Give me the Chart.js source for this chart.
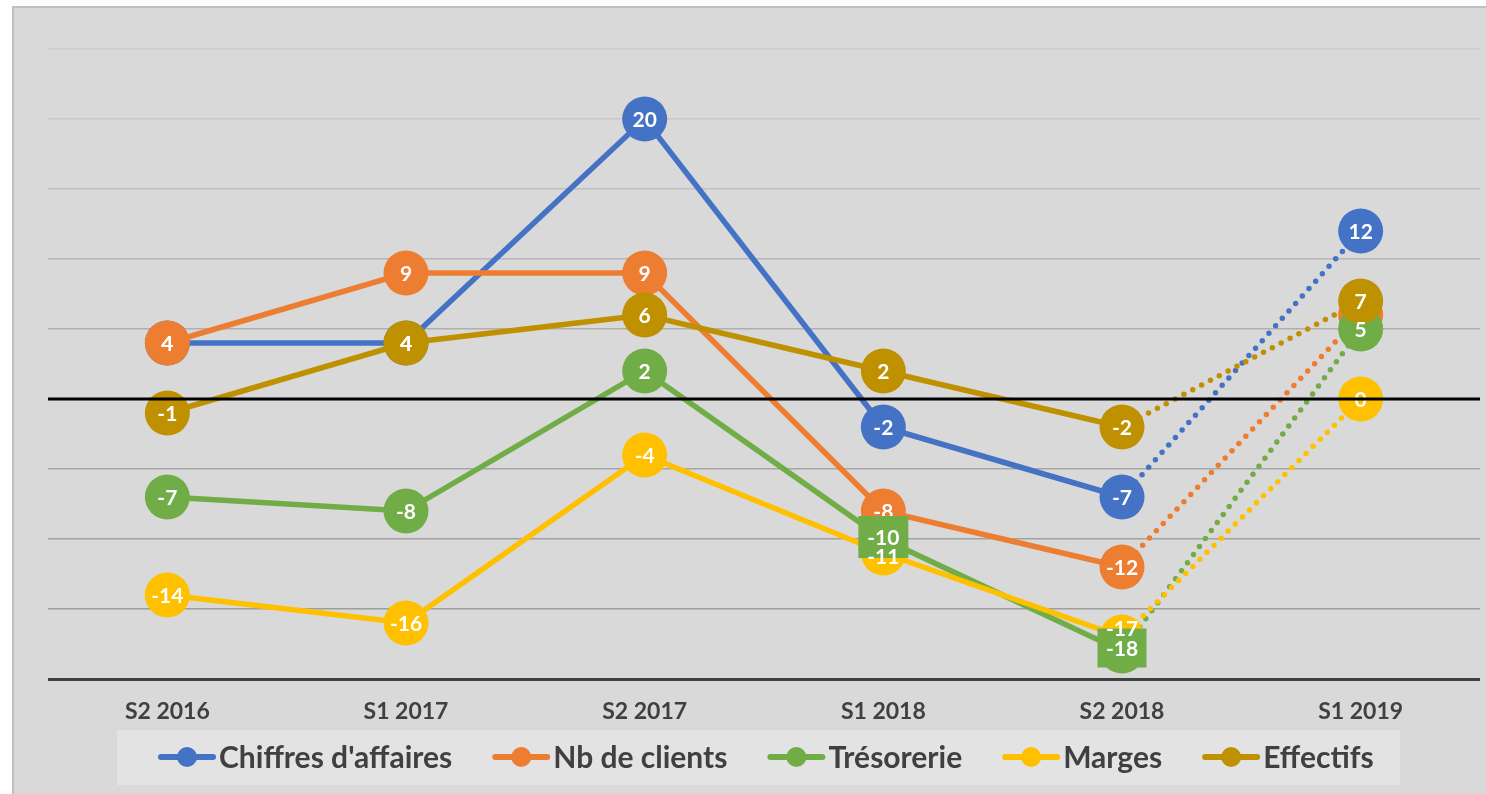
<!DOCTYPE html>
<html><head><meta charset="utf-8">
<script src="https://cdn.jsdelivr.net/npm/chart.js@4.4.0/dist/chart.umd.min.js"></script>
<style>
html,body{margin:0;padding:0;background:#fff;width:1486px;height:794px;overflow:hidden;}
#frame{position:absolute;left:12px;top:6px;width:1480px;height:800px;background:#d9d9d9;border-left:2px solid #bfbfbf;border-top:2px solid #bfbfbf;}
#wrap{position:absolute;left:0;top:0;width:1486px;height:794px;}
</style></head><body>
<div id="frame"></div>
<div id="wrap"><canvas id="c" width="1486" height="794"></canvas></div>
<script>
const categories = ['S2 2016','S1 2017','S2 2017','S1 2018','S2 2018','S1 2019'];
const seriesNames = ["Chiffres d'affaires", 'Nb de clients', 'Trésorerie', 'Marges', 'Effectifs'];
const chiffresAffaires = [4, 4, 20, -2, -7, 12];
const nbClients = [4, 9, 9, -8, -12, 6];
const tresorerie = [-7, -8, 2, -10, -18, 5];
const marges = [-14, -16, -4, -11, -17, 0];
const effectifs = [-1, 4, 6, 2, -2, 7];
const yMin = -20, yMax = 25, yStep = 5;

const seriesValues = [chiffresAffaires, nbClients, tresorerie, marges, effectifs];
const colors = ['#4472c4', '#ed7d31', '#70ad47', '#ffc000', '#bf9000'];
const FONT = 'Lato, Carlito, Calibri, "Open Sans", sans-serif';

// label styling tweaks (series:index)
const hiddenLabels = ['1:5'];
const labelOffsets = {'2:3': -2, '3:3': 3, '3:4': -9, '2:4': -3};
const boxLabels = {'2:3': [50, 42], '2:4': [49, 39]};

function gridColor(v) {
  const map = {25: '#cdcdcd', 20: '#c8c8c8', 15: '#c0c0c0', 10: '#b6b6b6', 5: '#afafaf', 0: 'rgba(0,0,0,0)', '-5': '#a6a6a6', '-10': '#a2a2a2', '-15': '#9e9e9e', '-20': '#404040'};
  return map[v] || '#b0b0b0';
}

const labelPlugin = {
  id: 'pointLabels',
  afterDatasetsDraw(chart) {
    const ctx = chart.ctx;
    ctx.save();
    ctx.font = 'bold 21px ' + FONT;
    ctx.textAlign = 'center';
    ctx.textBaseline = 'middle';
    chart.data.datasets.forEach((ds, di) => {
      const meta = chart.getDatasetMeta(di);
      meta.data.forEach((pt, i) => {
        const key = di + ':' + i;
        if (hiddenLabels.includes(key)) return;
        const x = pt.x, y = pt.y + (labelOffsets[key] || 0);
        if (boxLabels[key]) {
          const [w, h] = boxLabels[key];
          ctx.fillStyle = colors[di];
          ctx.fillRect(x - w / 2, y - h / 2, w, h);
        }
        ctx.fillStyle = '#ffffff';
        ctx.fillText(String(ds.data[i]), x, y + 1);
      });
    });
    ctx.restore();
  },
  afterDraw(chart) {
    const ctx = chart.ctx;
    const ys = chart.scales.y;
    const area = chart.chartArea;
    ctx.save();
    // zero line on top
    const y0 = ys.getPixelForValue(0);
    ctx.fillStyle = '#000000';
    ctx.fillRect(area.left, y0 - 1.5, area.right - area.left, 3);
    // legend
    ctx.fillStyle = '#e3e3e3';
    ctx.fillRect(117, 730, 1283, 55);
    ctx.font = 'bold 30px ' + FONT;
    ctx.textBaseline = 'middle';
    ctx.textAlign = 'left';
    const ly = 757;
    let sx = 158;
    chart.data.datasets.forEach((ds, di) => {
      ctx.strokeStyle = colors[di];
      ctx.lineWidth = 6;
      ctx.lineCap = 'round';
      ctx.beginPath();
      ctx.moveTo(sx + 3, ly);
      ctx.lineTo(sx + 55, ly);
      ctx.stroke();
      ctx.fillStyle = colors[di];
      ctx.beginPath();
      ctx.arc(sx + 29, ly, 10, 0, Math.PI * 2);
      ctx.fill();
      ctx.fillStyle = '#404040';
      ctx.fillText(ds.label, sx + 61, ly + 1);
      sx += 61 + ctx.measureText(ds.label).width + 40;
    });
    ctx.restore();
  }
};

const datasets = seriesValues.map((vals, i) => ({
  label: seriesNames[i],
  data: vals,
  borderColor: colors[i],
  backgroundColor: colors[i],
  pointBackgroundColor: colors[i],
  pointBorderWidth: 0,
  pointRadius: 22.5,
  pointHoverRadius: 22.5,
  borderWidth: 5.5,
  borderCapStyle: 'round',
  tension: 0,
  order: 4 - i,
  segment: {
    borderDash: ctx => (ctx.p1DataIndex === categories.length - 1 ? [0, 10] : undefined)
  }
}));

new Chart(document.getElementById('c'), {
  type: 'line',
  data: {labels: categories, datasets},
  options: {
    responsive: false,
    animation: false,
    devicePixelRatio: 1,
    layout: {autoPadding: false, padding: {left: 48, right: 6, top: 49, bottom: 0}},
    plugins: {legend: {display: false}, tooltip: {enabled: false}},
    scales: {
      x: {
        offset: true,
        grid: {display: false, drawTicks: false},
        border: {display: false},
        ticks: {color: '#404040', font: {family: FONT, size: 23, weight: 'bold'}, padding: 19, maxRotation: 0},
        afterFit(scale) { scale.height = 115; }
      },
      y: {
        min: yMin, max: yMax,
        ticks: {display: false, stepSize: yStep},
        border: {display: false},
        grid: {
          drawTicks: false,
          color: c => gridColor(c.tick.value),
          lineWidth: c => (c.tick.value === yMin ? 3 : 1.5)
        }
      }
    }
  },
  plugins: [labelPlugin]
});
</script>
</body></html>
